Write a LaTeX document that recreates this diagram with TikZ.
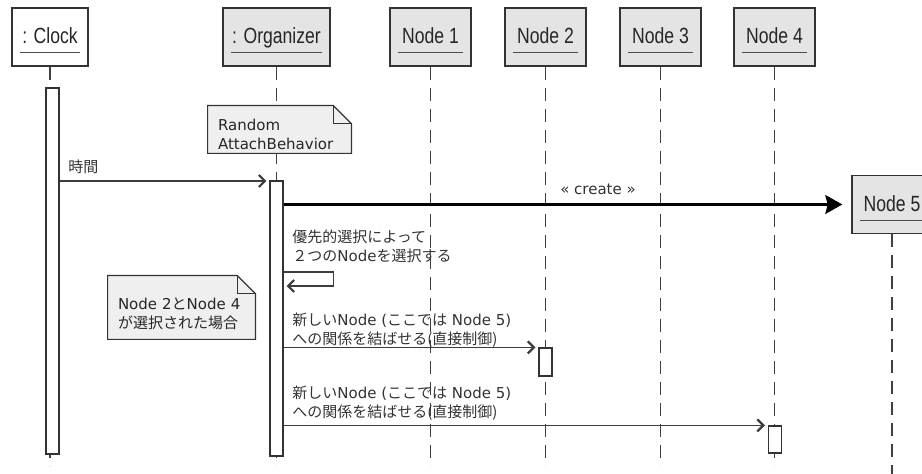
\documentclass[tikz,border=0pt]{standalone}
\usepackage{fontspec}
\setmainfont{DejaVu Sans}
\newfontfamily\jp{Noto Sans CJK JP}
\newfontfamily\headfont[FakeStretch=0.8]{Liberation Sans}
\usepackage{tikz}
\usetikzlibrary{positioning,arrows.meta,calc,backgrounds}
\definecolor{headc}{HTML}{E4E4E4}
\definecolor{notec}{HTML}{EFEFEF}
\definecolor{linec}{HTML}{333333}
\definecolor{msgc}{HTML}{3C3C3C}
\tikzset{
  head/.style={draw=linec, line width=0.7pt, minimum height=29pt, inner sep=0pt},
  headlbl/.style={inner sep=0pt, anchor=base, text=black!85, font=\headfont\fontsize{11}{13}\selectfont},
  underl/.style={draw=black!70, line width=0.5pt},
  life/.style={draw=black!75, line width=0.6pt, dash pattern=on 6.5pt off 4pt},
  bar/.style={draw=linec, line width=0.6pt, fill=white, minimum width=6.5pt, inner sep=0pt},
  msg/.style={draw=msgc, line width=0.6pt, -{Straight Barb[length=3pt,width=6pt,line width=1.1pt]}, shorten >=1.5pt},
  create/.style={draw=black, line width=1.1pt, -{Stealth[length=8.5pt,width=9.5pt,inset=1.2pt]}, shorten >=4.5pt},
  msglbl/.style={inner sep=0pt, text=black!80, font=\fontsize{7.5}{9.5}\selectfont},
  notetxt/.style={inner xsep=5pt, inner ysep=0pt, align=left, text=black!85, font=\fontsize{7.5}{9.5}\selectfont},
  noteline/.style={draw=linec, line width=0.6pt, fill=notec},
}
% head box with underlined name: [fill]{name}{x}{y}{width}{text}
\newcommand{\lifehead}[6][headc]{%
  \node[head, fill=#1, minimum width={#5*0.5pt}] (#2) at (#3,#4) {};
  \node[headlbl] (#2lbl) at ($(#2.south)+(0,-23)$) {#6};
  \draw[underl] ($(#2.south west)+(9,-14)$) -- ($(#2.south east)+(-9,-14)$);
}
\newcommand{\lifeline}[2]{%
  \draw[life] (#1.south) -- ++(0,#2);
}
% dog-eared note round a text node
\newcommand{\noteoutline}[1]{%
  \draw[noteline] (#1.south west) -- (#1.north west) -- ($(#1.north east)+(-18,0)$)
    -- ($(#1.north east)+(0,18)$) -- (#1.south east) -- cycle;
  \draw[noteline, fill=none] ($(#1.north east)+(-18,0)$) -- ++(0,18) -- ++(18,0);
}

\begin{document}
\begin{tikzpicture}[x=0.5pt, y=-0.5pt]
  \useasboundingbox (0,0) rectangle (922,474);
  \clip (0,0) rectangle (922,474);

  % heads
  \lifehead[white]{clock}{50}{37}{76}{: Clock}
  \lifehead{org}{276.5}{37}{107}{: Organizer}
  \lifehead{n1}{430.5}{37}{81}{Node 1}
  \lifehead{n2}{545.5}{37}{81}{Node 2}
  \lifehead{n3}{660.5}{37}{81}{Node 3}
  \lifehead{n4}{774.5}{37}{81}{Node 4}
  \lifehead{n5}{892}{204.5}{80}{Node 5}

  % notes
  \node[notetxt, text width=61.5pt, minimum height=23.5pt] (note1) at (279.5,129.5) {\rule{0pt}{10.5pt}Random\\AttachBehavior};
  \node[notetxt, text width=63.5pt, minimum height=31.5pt] (note2) at (181.5,307.5) {\rule{0pt}{12.5pt}Node 2{\jp と}Node 4\\{\jp が選択された場合}};

  \begin{scope}[on background layer]
    \foreach \h in {clock,org,n1,n2,n3,n4} { \lifeline{\h}{399} }
    \lifeline{n5}{241}
    \noteoutline{note1}
    \noteoutline{note2}
  \end{scope}

  % activations
  \node[bar, minimum height=183pt] (clockbar) at (52.5,271) {};
  \node[bar, minimum height=137.5pt] (orgbar) at (276.5,318.5) {};
  \node[bar, minimum height=14pt] (n2bar) at (545.5,362) {};
  \node[bar, minimum height=13.5pt] (n4bar) at (775,439.5) {};

  % messages
  \coordinate (t1) at (0,181);
  \draw[msg] (clockbar.east |- t1) -- (orgbar.west |- t1);
  \node[msglbl, anchor=west] (t1lbl) at (68,167) {\jp 時間};

  \draw[create] (orgbar.east |- n5.west) -- (n5.west);
  \node[msglbl] (t2lbl) at (598,189) {« create »};

  \coordinate (t3a) at (0,272);
  \coordinate (t3b) at (0,286);
  \draw[msg] (orgbar.east |- t3a) -- ++(50,0) -- ++(0,14) -- (orgbar.east |- t3b);
  \node[msglbl, anchor=west, align=left] (t3lbl) at (292,246.5) {{\jp 優先的選択によって}\\{\jp ２つの}Node{\jp を選択する}};

  \draw[msg] (orgbar.east |- n2bar.north west) -- (n2bar.north west);
  \node[msglbl, anchor=west, align=left] (t4lbl) at (292,330) {{\jp 新しい}Node ({\jp ここでは} Node 5)\\{\jp への関係を結ばせる(直接制御)}};

  \draw[msg] (orgbar.east |- n4bar.north west) -- (n4bar.north west);
  \node[msglbl, anchor=west, align=left] (t5lbl) at (292,403) {{\jp 新しい}Node ({\jp ここでは} Node 5)\\{\jp への関係を結ばせる(直接制御)}};
\end{tikzpicture}
\end{document}
